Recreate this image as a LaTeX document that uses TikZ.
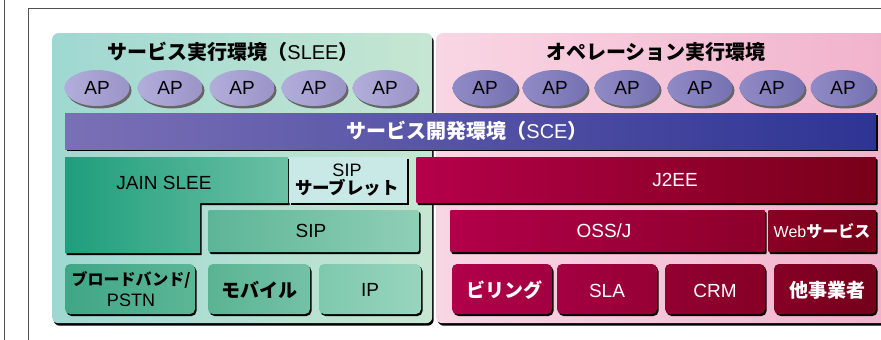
\documentclass[tikz,border=0pt]{standalone}
\usepackage{fontspec}
\setmainfont{Liberation Sans}
\newfontfamily\jp{Noto Sans CJK JP}
\usetikzlibrary{shapes.geometric,shadows}
\definecolor{frameg}{HTML}{505050}
\definecolor{slA}{HTML}{9FD8D2}\definecolor{slB}{HTML}{C6E6D2}
\definecolor{opA}{HTML}{F9D6E4}\definecolor{opB}{HTML}{F1B2CB}
\definecolor{apLA}{HTML}{B2AEDA}\definecolor{apLB}{HTML}{9A94C8}
\definecolor{apRA}{HTML}{908BC6}\definecolor{apRB}{HTML}{7672B2}
\definecolor{sceA}{HTML}{7A70B6}\definecolor{sceB}{HTML}{2E3494}
\definecolor{jainA}{HTML}{1E9E7C}\definecolor{jainB}{HTML}{6CC0A4}
\definecolor{sipsv}{HTML}{C9E9E6}
\definecolor{sipA}{HTML}{5DB597}\definecolor{sipB}{HTML}{8FCFB7}
\definecolor{bbA}{HTML}{3FA686}\definecolor{bbB}{HTML}{5CB696}
\definecolor{mobA}{HTML}{5AB494}\definecolor{mobB}{HTML}{74C1A7}
\definecolor{ipA}{HTML}{7EC8AE}\definecolor{ipB}{HTML}{98D5BE}
\definecolor{crA}{HTML}{B5004A}\definecolor{crB}{HTML}{780018}
\definecolor{ossA}{HTML}{B2004A}\definecolor{ossB}{HTML}{8C002A}
\definecolor{webA}{HTML}{8A0024}\definecolor{webB}{HTML}{760018}
\definecolor{c1}{HTML}{B0004A}\definecolor{c2}{HTML}{A20040}
\definecolor{c3}{HTML}{A40042}\definecolor{c4}{HTML}{960034}
\definecolor{c5}{HTML}{920032}\definecolor{c6}{HTML}{860026}
\definecolor{c7}{HTML}{860026}\definecolor{c8}{HTML}{74001A}
\tikzset{
  bshadow/.style={drop shadow={shadow xshift=1.5pt,shadow yshift=-2pt,fill=black,opacity=1}},
  pshadow/.style={drop shadow={shadow xshift=1.5pt,shadow yshift=-2.5pt,fill=black,opacity=1}},
  ashadow/.style={drop shadow={shadow xshift=2pt,shadow yshift=-2.5pt,fill=black!60,opacity=1}},
  box/.style={draw=none,inner sep=0pt,outer sep=0pt,anchor=north west,bshadow},
  panel/.style={draw=none,inner sep=0pt,anchor=north west,rounded corners=6pt,pshadow},
  ap/.style={ellipse,draw=none,minimum width=65pt,minimum height=36pt,inner sep=0pt,ashadow,
    font=\fontsize{19}{21}\selectfont},
  lat/.style={font=\fontsize{19}{21}\selectfont},
  jpb/.style={font=\fontsize{19}{21}\selectfont\jp\bfseries},
  ttl/.style={font=\fontsize{20}{22}\selectfont},
}
\begin{document}
\begin{tikzpicture}[x=1pt,y=-1pt]
\useasboundingbox (0,0) rectangle (881,340);
\clip (0,0) rectangle (881,340);
% frame
\draw[frameg,line width=0.8pt] (4,0) -- (4,340);
\draw[frameg,line width=0.8pt] (28,340) -- (28,8) -- (885,8);
% panels
\node[panel,minimum width=380pt,minimum height=290pt,left color=slA,right color=slB] (slee) at (52,33) {};
\node[panel,minimum width=460pt,minimum height=290pt,left color=opA,right color=opB] (ops) at (436,33) {};
\node[ttl] (sleet) at (233,52) {{\jp\bfseries サービス実行環境（}SLEE{\jp\bfseries ）}};
\node[ttl] (opst) at (656,52) {\jp\bfseries オペレーション実行環境};
% APs
\foreach \n/\x in {1/97,2/170,3/242,4/314,5/385}
  \node[ap,left color=apLA,right color=apLB] (apL\n) at (\x,88) {AP};
\foreach \n/\x in {1/485,2/555,3/627,4/700,5/772,6/843}
  \node[ap,left color=apRA,right color=apRB] (apR\n) at (\x,88) {AP};
% SCE
\node[box,minimum width=811pt,minimum height=36pt,left color=sceA,right color=sceB] (sce) at (65,113) {};
\node[ttl,text=white] (scet) at (467,131) {{\jp\bfseries サービス開発環境（}SCE{\jp\bfseries ）}};
% JAIN SLEE
\shade[left color=jainA,right color=jainB,bshadow] (65,157) -- (288,157) -- (288,203) -- (200,203) -- (200,253) -- (65,253) -- cycle;
\node[lat] (jain) at (164,183) {JAIN SLEE};
\node[box,minimum width=118pt,minimum height=46pt,fill=sipsv] (sipsvb) at (289,157) {};
\node[align=center,inner sep=0pt,font=\fontsize{18}{18}\selectfont] (sipsvt) at (347,180) {SIP\\{\fontsize{17.5}{18}\selectfont\jp\bfseries サーブレット}};
\node[box,minimum width=211pt,minimum height=42pt,left color=sipA,right color=sipB,rounded corners=2pt] (sip) at (208,210) {};
\node[lat] (sipt) at (311,231) {SIP};
\node[box,minimum width=130pt,minimum height=50pt,left color=bbA,right color=bbB,rounded corners=5pt] (bb) at (65,264) {};
\node[align=center,inner sep=0pt,font=\fontsize{18}{21}\selectfont] (bbt) at (131,289) {{\fontsize{16}{21}\selectfont\jp\bfseries ブロードバンド/}\\PSTN};
\node[box,minimum width=102pt,minimum height=50pt,left color=mobA,right color=mobB,rounded corners=5pt] (mob) at (208,264) {};
\node[jpb] (mobt) at (259,290) {モバイル};
\node[box,minimum width=102pt,minimum height=50pt,left color=ipA,right color=ipB,rounded corners=5pt] (ip) at (319,264) {};
\node[lat] (ipt) at (370,290) {IP};
% J2EE side
\node[box,minimum width=460pt,minimum height=46pt,left color=crA,right color=crB,rounded corners=1pt] (j2ee) at (416,157) {};
\node[lat,text=white] (j2eet) at (675,180) {J2EE};
\node[box,minimum width=315pt,minimum height=42pt,left color=ossA,right color=ossB,rounded corners=1pt] (oss) at (450,210) {};
\node[lat,text=white] (osst) at (604,231) {OSS/J};
\node[box,minimum width=108pt,minimum height=42pt,left color=webA,right color=webB,rounded corners=1pt] (web) at (768,210) {};
\node[text=white,inner sep=0pt] (webt) at (822,231) {{\fontsize{16}{18}\selectfont Web}{\fontsize{16}{18}\selectfont\jp\bfseries サービス}};
\node[box,minimum width=100pt,minimum height=50pt,left color=c1,right color=c2,rounded corners=5pt] (bill) at (452,264) {};
\node[jpb,text=white] (billt) at (504,290) {ビリング};
\node[box,minimum width=100pt,minimum height=50pt,left color=c3,right color=c4,rounded corners=5pt] (sla) at (557,264) {};
\node[lat,text=white] (slat) at (607,291) {SLA};
\node[box,minimum width=100pt,minimum height=50pt,left color=c5,right color=c6,rounded corners=5pt] (crm) at (665,264) {};
\node[lat,text=white] (crmt) at (715,291) {CRM};
\node[box,minimum width=102pt,minimum height=50pt,left color=c7,right color=c8,rounded corners=5pt] (oth) at (774,264) {};
\node[jpb,text=white] (otht) at (827,290) {他事業者};
\end{tikzpicture}
\end{document}
